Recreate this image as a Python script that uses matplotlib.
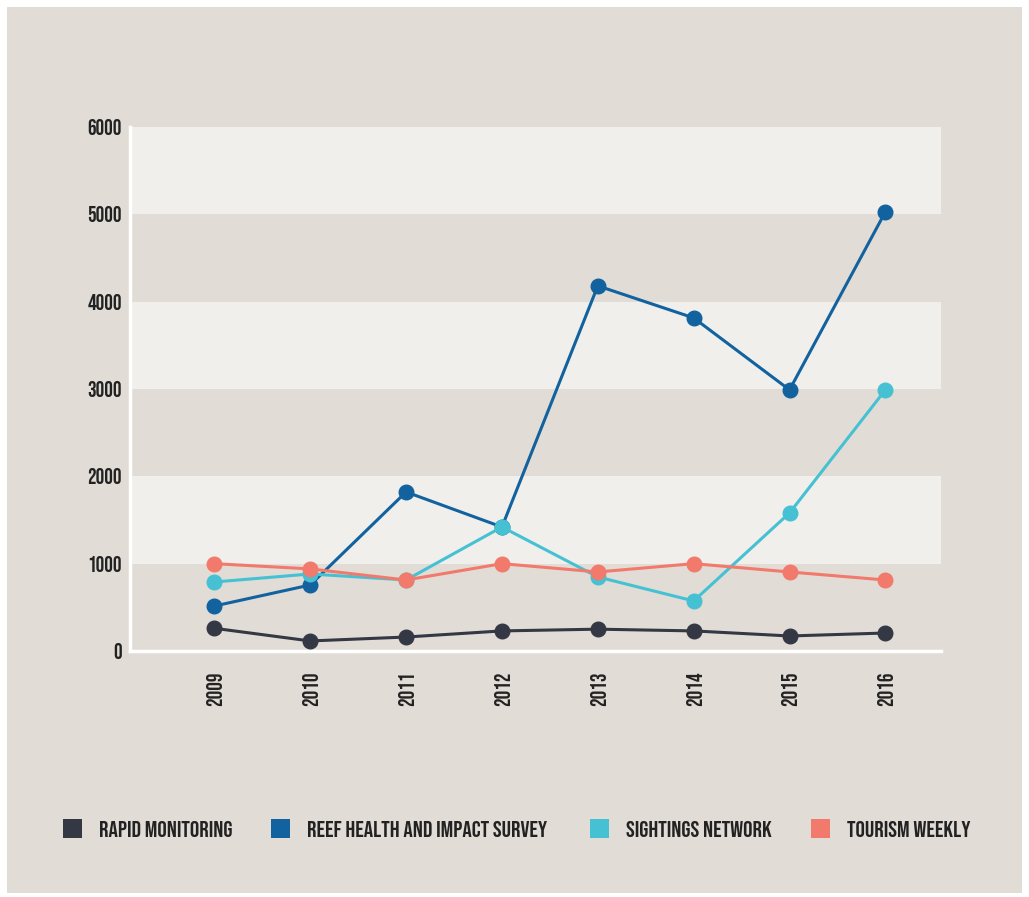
import matplotlib
matplotlib.use("Agg")
import matplotlib.pyplot as plt
from matplotlib.patches import Rectangle
from matplotlib import font_manager

years = ["2009", "2010", "2011", "2012", "2013", "2014", "2015", "2016"]
rapid_monitoring = [260, 115, 160, 230, 250, 230, 172, 206]
reef_health = [515, 756, 1821, 1420, 4181, 3814, 2990, 5029]
sightings = [790, 882, 813, 1420, 848, 573, 1581, 2990]
tourism = [1000, 940, 813, 1000, 905, 1000, 905, 813]
series_names = ["RAPID MONITORING", "REEF HEALTH AND IMPACT SURVEY",
                "SIGHTINGS NETWORK", "TOURISM WEEKLY"]
y_ticks = [0, 1000, 2000, 3000, 4000, 5000, 6000]

colors = ["#343844", "#12629f", "#45c1d3", "#f27a6d"]
bg = "#e1ddd6"
light = "#f0efeb"
txt_color = "#222222"

names = {f.name for f in font_manager.fontManager.ttflist}
fam = "DejaVu Sans"
for cand in ["Bebas Neue", "Barlow Condensed"]:
    if cand in names:
        fam = cand
        break
plt.rcParams["font.family"] = [fam, "DejaVu Sans"]

W, H = 1029, 897
fig = plt.figure(figsize=(W / 100, H / 100), dpi=100, facecolor="white")
fig.patches.append(Rectangle((7 / W, 4 / H), (W - 14) / W, (H - 11) / H,
                             transform=fig.transFigure, facecolor=bg,
                             edgecolor="none", zorder=-10))

ax = fig.add_axes([130 / W, 1 - 651 / H, (941 - 130) / W, (651 - 127) / H])
ax.set_facecolor(bg)
for i in range(len(y_ticks) - 1):
    ax.axhspan(y_ticks[i], y_ticks[i + 1], color=(bg if i % 2 == 0 else light),
               lw=0, zorder=0)

x = list(range(len(years)))
for vals, c in [(rapid_monitoring, colors[0]), (reef_health, colors[1]),
                (sightings, colors[2]), (tourism, colors[3])]:
    ax.plot(x, vals, color=c, lw=2.2, marker="o", markersize=10.5, zorder=3)

ax.set_xlim(-0.88, 7.58)
ax.set_ylim(0, 6000)
ax.set_yticks(y_ticks)
ax.set_yticklabels([str(v) for v in y_ticks], fontsize=15.5, color=txt_color)
ax.set_xticks(x)
ax.set_xticklabels(years, rotation=90, fontsize=15.5, color=txt_color)
ax.tick_params(length=0)
ax.tick_params(axis="y", pad=6)
ax.tick_params(axis="x", pad=15)
for s in ["top", "right"]:
    ax.spines[s].set_visible(False)
for s in ["left", "bottom"]:
    ax.spines[s].set_color("white")
    ax.spines[s].set_linewidth(2.5)

# legend
leg_x = [63, 271, 590, 811]
for lx, name, c in zip(leg_x, series_names, colors):
    fig.patches.append(Rectangle((lx / W, 1 - 838 / H), 19 / W, 19 / H,
                                 transform=fig.transFigure, facecolor=c,
                                 edgecolor="none"))
    fig.text((lx + 36) / W, 1 - 828.5 / H, name, fontsize=16.8, color=txt_color,
             va="center", ha="left")

fig.savefig("out.png", dpi=100, facecolor="white")
